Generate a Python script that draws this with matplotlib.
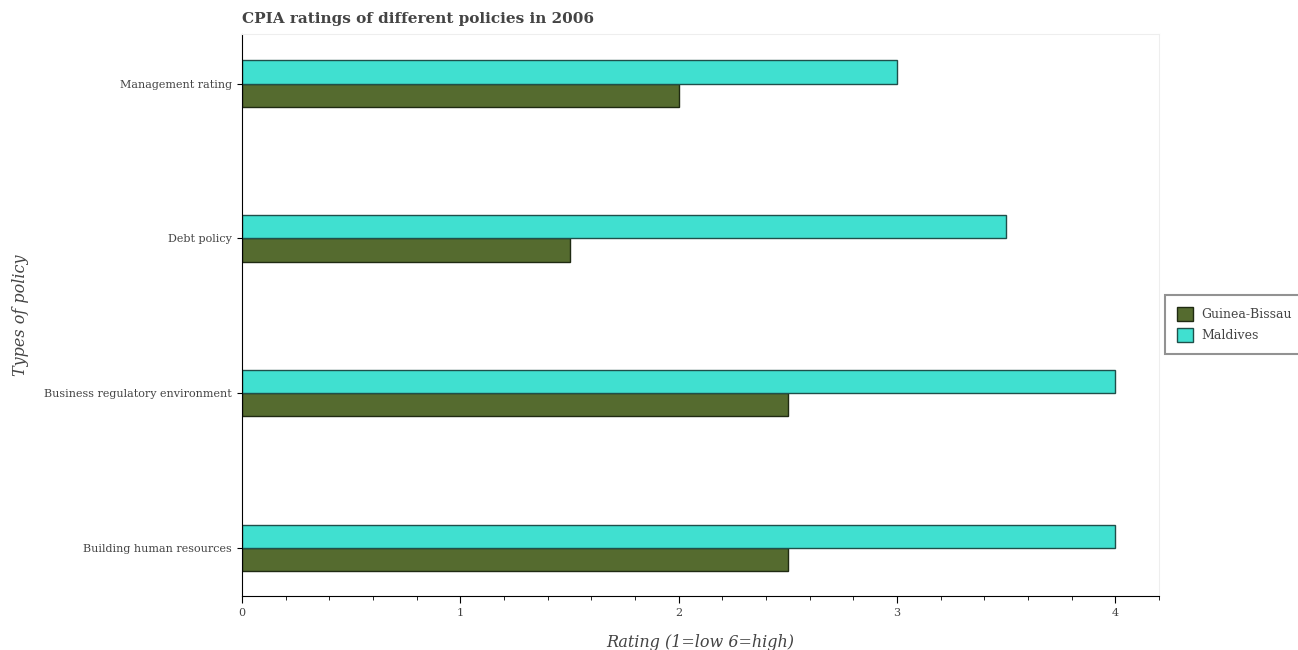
import matplotlib
matplotlib.use("Agg")
import matplotlib.pyplot as plt
import numpy as np

# data
policies = ['Building human resources', 'Business regulatory environment',
            'Debt policy', 'Management rating']
guinea_bissau = [2.5, 2.5, 1.5, 2.0]
maldives = [4.0, 4.0, 3.5, 3.0]

plt.rcParams['font.family'] = 'DejaVu Serif'
text_col = '#444444'

fig = plt.figure(figsize=(12.98, 6.5), dpi=100)
ax = fig.add_axes([0.1864, 0.0831, 0.7066, 0.8646])

y = np.arange(len(policies))
h = 0.15
ax.barh(y - h / 2, guinea_bissau, height=h, color='#556b2f',
        edgecolor='#1f2a12', linewidth=1, label='Guinea-Bissau')
ax.barh(y + h / 2, maldives, height=h, color='#40e0d0',
        edgecolor='#1f4f4a', linewidth=1, label='Maldives')

ax.set_xlim(0, 4.2)
ax.set_ylim(-0.31, 3.32)
ax.set_yticks(y)
ax.set_yticklabels(policies)
ax.set_xticks([0, 1, 2, 3, 4])
ax.set_xticks(np.arange(0, 4.21, 0.2), minor=True)
ax.tick_params(axis='both', colors='black', labelcolor=text_col, labelsize=8)
ax.tick_params(axis='x', which='major', length=5)
ax.tick_params(axis='x', which='minor', length=3)

for s in ['top', 'right']:
    ax.spines[s].set_color('#eeeeee')

ax.set_xlabel('Rating (1=low 6=high)', fontsize=11.5, style='italic',
              color=text_col, labelpad=12)
ax.set_ylabel('Types of policy', fontsize=11.5, style='italic',
              color=text_col, labelpad=11)
ax.set_title('CPIA ratings of different policies in 2006', loc='left',
             fontsize=11, fontweight='bold', color=text_col, pad=8)

leg = ax.legend(loc='center left', bbox_to_anchor=(1.0, 0.483), fontsize=9,
                fancybox=False, edgecolor='#777777', labelcolor=text_col,
                handlelength=1.3, handleheight=1.3, borderpad=0.95,
                labelspacing=0.55, handletextpad=0.6)
leg.get_frame().set_linewidth(1.5)

fig.savefig('out.png', dpi=100)
